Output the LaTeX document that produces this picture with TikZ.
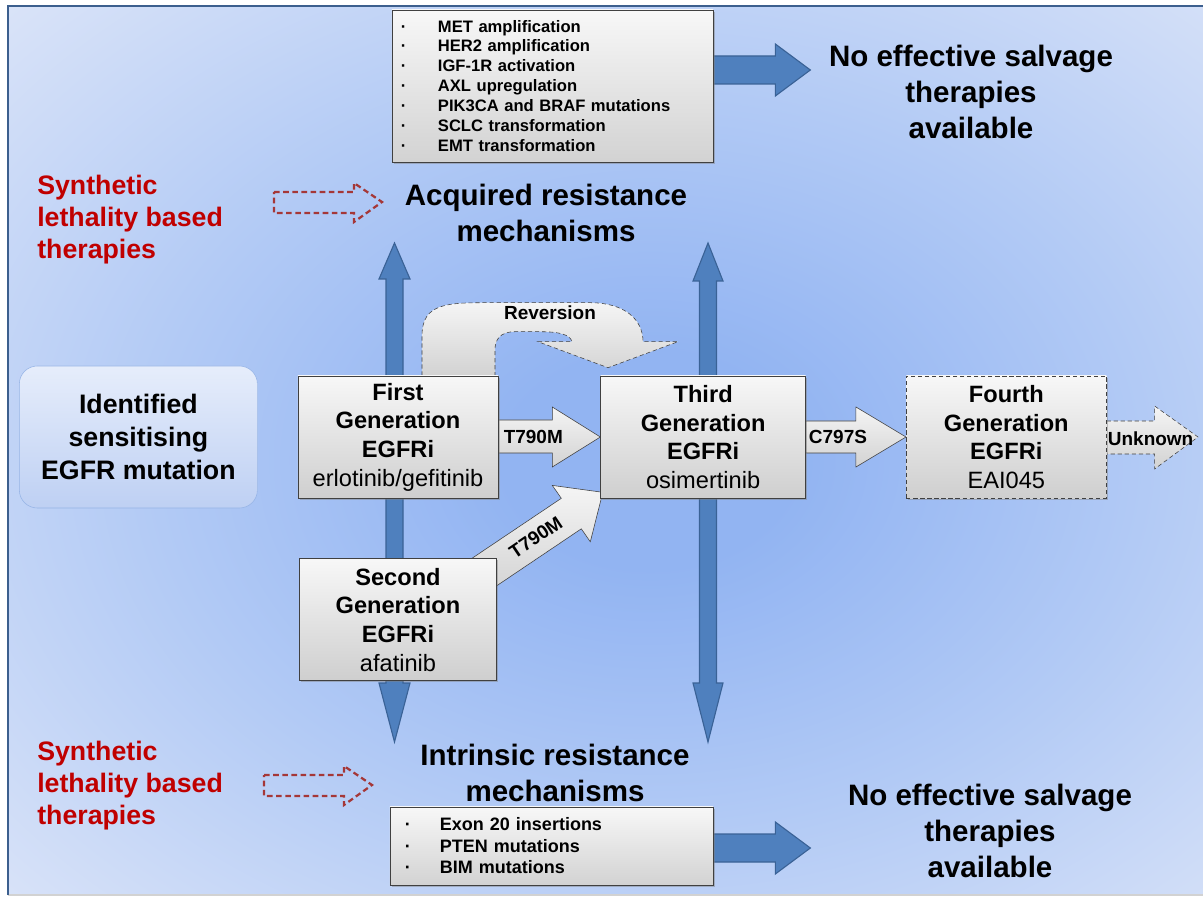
\documentclass[tikz,border=0pt]{standalone}
\usepackage{fontspec}
\setmainfont{Liberation Sans}
\usetikzlibrary{positioning, calc, shadows, backgrounds}

\pgfdeclarelayer{canvas}
\pgfsetlayers{canvas,background,main}

\definecolor{bgin}{RGB}{146,180,242}
\definecolor{bgmid}{RGB}{178,202,245}
\definecolor{bgout}{RGB}{228,234,249}
\definecolor{framecol}{RGB}{60,95,142}
\definecolor{arrowblue}{RGB}{79,128,190}
\definecolor{arrowedge}{RGB}{58,98,150}
\definecolor{synred}{RGB}{192,0,0}
\definecolor{dashred}{RGB}{165,55,55}
\definecolor{boxedge}{RGB}{64,64,64}
\definecolor{identtop}{RGB}{230,237,251}
\definecolor{identbot}{RGB}{190,208,243}
\definecolor{identedge}{RGB}{150,180,230}

\pgfdeclareradialshading{bgglow}{\pgfpoint{0bp}{0bp}}{color(0bp)=(bgin); color(5bp)=(bgin); color(17bp)=(bgmid); color(34bp)=(bgout); color(75bp)=(bgout)}

\newcommand{\headfont}{\fontsize{21}{25.8}\selectfont\bfseries}
\newcommand{\redfont}{\fontsize{19}{22.7}\selectfont\bfseries}
\newcommand{\identfont}{\fontsize{19}{23.3}\selectfont\bfseries}
\newcommand{\genfont}{\fontsize{16.8}{20.4}\selectfont}
\newcommand{\acqfont}{\fontsize{11.8}{14.2}\selectfont\bfseries}
\newcommand{\intfont}{\fontsize{12.8}{15.3}\selectfont\bfseries}
\newcommand{\lblfont}{\fontsize{13.5}{16}\selectfont\bfseries}

\tikzset{
  genbox/.style={draw=boxedge, top color=gray!6, bottom color=gray!38, minimum width=5cm, minimum height=3.05cm, align=center, inner sep=2pt, font=\genfont, drop shadow={shadow xshift=1.2pt, shadow yshift=-1.2pt, opacity=0.45}},
  listbox/.style={draw=boxedge, top color=gray!6, bottom color=gray!35, align=left, drop shadow={shadow xshift=1.2pt, shadow yshift=-1.2pt, opacity=0.45}},
  identbox/.style={draw=identedge, top color=identtop, bottom color=identbot, rounded corners=0.45cm, minimum width=5.95cm, minimum height=3.55cm, align=center, font=\identfont},
  greyarrow/.style={draw=boxedge, top color=gray!8, bottom color=gray!35},
  bluearrow/.style={draw=arrowedge, fill=arrowblue, line width=0.8pt},
  redarrow/.style={draw=dashred, line width=1.6pt, dash pattern=on 4pt off 2.5pt},
  headtext/.style={font=\headfont, align=center},
  redtext/.style={font=\redfont, align=left, text=synred, inner sep=0pt},
  lbl/.style={font=\lblfont, inner sep=0pt}
}

\begin{document}
\begin{tikzpicture}[x=0.025cm, y=-0.025cm]
        \useasboundingbox (0,0) rectangle (1203,898);

        % Background panel
        \begin{pgfonlayer}{canvas}
            \begin{scope}
                \clip (8,6) rectangle (1215,895);
                \shade[shading=bgglow] (-80,-80) rectangle (1380,1000);
            \end{scope}
            \draw[gray!35, line width=0.8pt] (8,895) -- (1215,895);
            \draw[framecol, line width=2pt] (8,895) -- (8,6) -- (1215,6);
        \end{pgfonlayer}

        % Free ends of the vertical and dashed arrows
        \coordinate (lefttop) at (394.5,243);
        \coordinate (leftbot) at (394.5,742);
        \coordinate (righttop) at (708,243);
        \coordinate (rightbot) at (708,742);
        \coordinate (redtail1) at (274,202);
        \coordinate (redtip1) at (382,202);
        \coordinate (redtail2) at (264,785);
        \coordinate (redtip2) at (372,785);
        \coordinate (unknowntip) at (1198,437);

        % Vertical double arrows (behind the boxes)
        \draw[bluearrow] (lefttop) -- ++(15.5,36) -- ++(-7,0) -- ($(leftbot)+(8.5,-59)$) -- ++(7,0) -- (leftbot) -- ++(-15.5,-59) -- ++(7,0) -- ($(lefttop)+(-8.5,36)$) -- ++(-7,0) -- cycle;
        \draw[bluearrow] (righttop) -- ++(15,38) -- ++(-6.5,0) -- ($(rightbot)+(8.5,-59)$) -- ++(6.5,0) -- (rightbot) -- ++(-15,-59) -- ++(6.5,0) -- ($(righttop)+(-8.5,38)$) -- ++(-6.5,0) -- cycle;

        % Generation boxes
        \node[genbox] (first) at (398,437) {\textbf{First}\\\textbf{Generation}\\\textbf{EGFRi}\\erlotinib/gefitinib};
        \node[genbox, minimum width=5.125cm, right=2.55cm of first] (third) {\textbf{Third}\\\textbf{Generation}\\\textbf{EGFRi}\\osimertinib};
        \node[genbox, dash pattern=on 3pt off 2pt, right=2.5cm of third] (fourth) {\textbf{Fourth}\\\textbf{Generation}\\\textbf{EGFRi}\\EAI045};
        \node[genbox, minimum width=4.925cm, below=1.5cm of first] (second) {\textbf{Second}\\\textbf{Generation}\\\textbf{EGFRi}\\afatinib};

        \node[identbox, left=1cm of first] (ident) {Identified\\sensitising\\EGFR mutation};

        % Resistance mechanism lists
        \node[listbox, font=\acqfont, text width=7.575cm, inner xsep=0.225cm, minimum height=3.8cm] (acqlist) at (552.5,86) {%
            \makebox[26.3pt][l]{·}MET amplification\\
            \makebox[26.3pt][l]{·}HER2 amplification\\
            \makebox[26.3pt][l]{·}IGF-1R activation\\
            \makebox[26.3pt][l]{·}AXL upregulation\\
            \makebox[26.3pt][l]{·}PIK3CA and BRAF mutations\\
            \makebox[26.3pt][l]{·}SCLC transformation\\
            \makebox[26.3pt][l]{·}EMT transformation};
        \node[listbox, font=\intfont, text width=7.325cm, inner xsep=0.375cm, minimum height=1.95cm] (intlist) at (551.5,846) {%
            \makebox[24.9pt][l]{·}Exon 20 insertions\\
            \makebox[24.9pt][l]{·}PTEN mutations\\
            \makebox[24.9pt][l]{·}BIM mutations};

        % Headings
        \node[headtext] (acqtext) at (546,213) {Acquired resistance\\mechanisms};
        \node[headtext] (inttext) at (555,773) {Intrinsic resistance\\mechanisms};
        \node[headtext] (salvtop) at (971,92) {No effective salvage\\therapies\\available};
        \node[headtext] (salvbot) at (990,831) {No effective salvage\\therapies\\available};
        \node[redtext, anchor=west] (synthtop) at (37,219.5) {Synthetic\\lethality based\\therapies};
        \node[redtext, anchor=west] (synthbot) at (37,786) {Synthetic\\lethality based\\therapies};

        % Block arrows
        \begin{pgfonlayer}{background}
            \draw[bluearrow] ($(acqlist.east)+(0,-30)$) -- ++(62,0) -- ++(0,-12) -- ++(35,26) -- ++(-35,26) -- ++(0,-12) -- ++(-62,0) -- cycle;
            \draw[bluearrow] ($(intlist.east)+(0,-12)$) -- ++(62,0) -- ++(0,-12) -- ++(35,26) -- ++(-35,26) -- ++(0,-12) -- ++(-62,0) -- cycle;

            \draw[greyarrow] ($(first.east)+(0,-17)$) -- ++(54,0) -- ++(0,-13) -- (third.west) -- ($(first.east)+(54,30)$) -- ++(0,-14) -- ++(-54,0) -- cycle;
            \draw[greyarrow] ($(third.east)+(0,-16)$) -- ++(50,0) -- ++(0,-14) -- (fourth.west) -- ($(third.east)+(50,30)$) -- ++(0,-14) -- ++(-50,0) -- cycle;
            \draw[greyarrow, dash pattern=on 3pt off 2pt] ($(fourth.east)+(0,-16)$) -- ++(48,0) -- ++(0,-15) -- (unknowntip) -- ($(fourth.east)+(48,32)$) -- ++(0,-15) -- ++(-48,0) -- cycle;
            \draw[greyarrow] ($(second.north east)+(-36,7.5)$) -- ($(second.north east)+(64.5,-60)$) -- ($(second.north east)+(55.5,-72.9)$) -- ($(second.north east)+(106,-66)$) -- ($(second.north east)+(93.5,-16.5)$) -- ($(second.north east)+(84.5,-29.5)$) -- ($(second.north east)+(-15,37.5)$) -- cycle;

            % Reversion loop
            \draw[greyarrow, dash pattern=on 3pt off 2pt, shift={(first.north)}] (24,0) -- (24,-40) .. controls (24,-73) and (50,-73) .. (92,-73) -- (192,-73) .. controls (227,-73) and (245,-56) .. (245,-34) -- (280,-34) -- (210,-8) -- (140,-34) -- (174,-34) .. controls (172,-41) and (162,-44) .. (142,-44) -- (117,-44) .. controls (102,-44) and (97,-36) .. (97,-26) -- (97,0) -- cycle;
        \end{pgfonlayer}

        % Dashed arrows from the synthetic lethality labels
        \draw[redarrow] ($(redtail1)+(0,-10)$) -- ++(80,0) -- ++(0,-9) -- (redtip1) -- ($(redtail1)+(80,20)$) -- ++(0,-9) -- ++(-80,0) -- cycle;
        \draw[redarrow] ($(redtail2)+(0,-10)$) -- ++(80,0) -- ++(0,-9) -- (redtip2) -- ($(redtail2)+(80,20)$) -- ++(0,-9) -- ++(-80,0) -- cycle;

        % Arrow labels
        \node[lbl] (t790a) at ($(first.east)+(35,0)$) {T790M};
        \node[lbl] (c797s) at ($(third.east)+(32,0)$) {C797S};
        \node[lbl] (unknown) at ($(fourth.east)+(44,2)$) {Unknown};
        \node[lbl, rotate=34] (t790b) at ($(second.north east)+(39,-21)$) {T790M};
        \node[lbl] (reversion) at ($(first.north)+(152,-63)$) {Reversion};
\end{tikzpicture}
\end{document}
